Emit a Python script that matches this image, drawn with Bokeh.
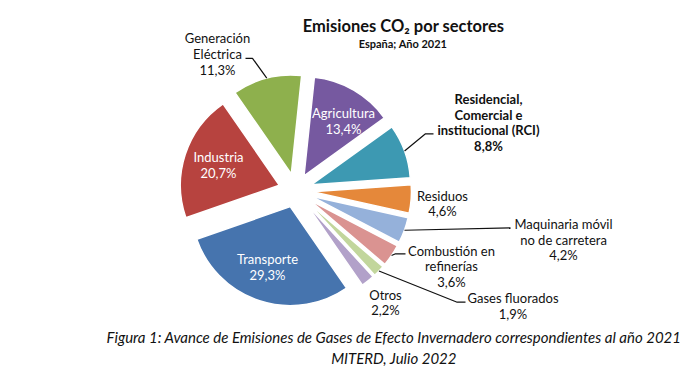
import math
from bokeh.plotting import figure
from bokeh.models import Range1d, ColumnDataSource
from bokeh.core.properties import value
from bokeh.embed import file_html
from bokeh.resources import INLINE

# ---- data ----
sectors = ["Agricultura", "RCI", "Residuos", "Maquinaria", "Combustión",
           "Gases fluorados", "Otros", "Transporte", "Industria", "Generación Eléctrica"]
shares = [13.4, 8.8, 4.6, 4.2, 3.6, 1.9, 2.2, 29.3, 20.7, 11.3]
colors = ["#7659A0", "#3D99B2", "#E5883A", "#95B1DA", "#DA9391",
          "#C2D69C", "#B2A1C9", "#4674AE", "#B7433F", "#8EB04D"]
name_lines = [
    ["Agricultura"],
    ["Residencial,", "Comercial e", "institucional (RCI)"],
    ["Residuos"],
    ["Maquinaria móvil", "no de carretera"],
    ["Combustión en", "refinerías"],
    ["Gases fluorados"],
    ["Otros"],
    ["Transporte"],
    ["Industria"],
    ["Generación", "Eléctrica"],
]
title_text = "Emisiones CO₂ por sectores"
subtitle_text = "España; Año 2021"
caption_lines = ["Figura 1: Avance de Emisiones de Gases de Efecto Invernadero correspondientes al año 2021",
                 "MITERD, Julio 2022"]

# ---- layout (page pixel coordinates) ----
W, H = 686, 367
def X(px): return px
def Y(py): return H - py

CX, CY = 295.0, 190.0      # pie centre (page px)
R = 99.0
EXPLODE = 17.0
START = 6.0                # first slice angle, degrees clockwise from north

# label placement: (centre x, first line y, line step, bold, colour)
label_pos = [
    (343, 112.5, 15.8, False, "white"),
    (488, 98.3, 15.8, True, "#111111"),
    (442, 195, 15.8, False, "#111111"),
    (563, 223.3, 15.8, False, "#111111"),
    (451, 250, 15.8, False, "#111111"),
    (512.5, 297.7, 15.8, False, "#111111"),
    (385, 294, 15.5, False, "#111111"),
    (267, 258.3, 16.0, False, "white"),
    (218, 156, 16.0, False, "white"),
    (217, 37.3, 16.0, False, "#111111"),
]
# leader paths after the arc point (page px)
leaders = {
    1: [(425, 133.3), (433, 133.3)],
    3: [(510, 227.3)],
    4: [(395, 253.3), (405, 253.3)],
    5: [(456.7, 301.7), (465, 301.7)],
    9: [(252, 57.8), (245, 57.8)],
}

p = figure(width=W, height=H, output_backend="svg", toolbar_location=None,
           x_range=Range1d(0, W), y_range=Range1d(0, H), min_border=0)
p.axis.visible = False
p.grid.visible = False
p.outline_line_color = None
p.background_fill_color = "white"

total = sum(shares)
cum = START
xs, ys, sa, ea = [], [], [], []
arc_pts = []
for v in shares:
    a1 = cum
    a2 = cum + v / total * 360.0
    cum = a2
    am = math.radians((a1 + a2) / 2)
    ax = CX + EXPLODE * math.sin(am)
    ay = CY - EXPLODE * math.cos(am)
    xs.append(X(ax)); ys.append(Y(ay))
    sa.append(math.radians(90 - a2)); ea.append(math.radians(90 - a1))
    arc_pts.append((ax + R * math.sin(am), ay - R * math.cos(am)))

src = ColumnDataSource(dict(x=xs, y=ys, start=sa, end=ea, color=colors))
p.wedge(x="x", y="y", radius=R, start_angle="start", end_angle="end",
        fill_color="color", line_color="white", line_width=1.5, source=src)

for i, path in leaders.items():
    pts = [arc_pts[i]] + path
    p.line([X(a) for a, b in pts], [Y(b) for a, b in pts], line_color="#111111", line_width=1.2)

FONT = value("Lato")
for i, (lx, ly, step, bold, col) in enumerate(label_pos):
    lines = name_lines[i] + [f"{shares[i]:.1f}".replace(".", ",") + "%"]
    p.text(x=[X(lx)] * len(lines), y=[Y(ly + k * step) for k in range(len(lines))], text=lines,
           text_font=FONT, text_font_size="13px", text_align="center", text_baseline="middle",
           text_color=col, text_font_style="bold" if bold else "normal")

p.text(x=[X(403)], y=[Y(25)], text=[title_text], text_font=FONT, text_font_size="16.5px",
       text_font_style="bold", text_align="center", text_baseline="middle", text_color="#111111")
p.text(x=[X(402.5)], y=[Y(42.7)], text=[subtitle_text], text_font=FONT, text_font_size="11px",
       text_font_style="bold", text_align="center", text_baseline="middle", text_color="#111111")
p.text(x=[X(393.5), X(393.5)], y=[Y(336.5), Y(357.5)], text=caption_lines, text_font=FONT,
       text_font_size="15px", text_font_style="italic", text_align="center", text_baseline="middle",
       text_color="#111111")

open("out.html", "w").write(file_html(p, INLINE))
